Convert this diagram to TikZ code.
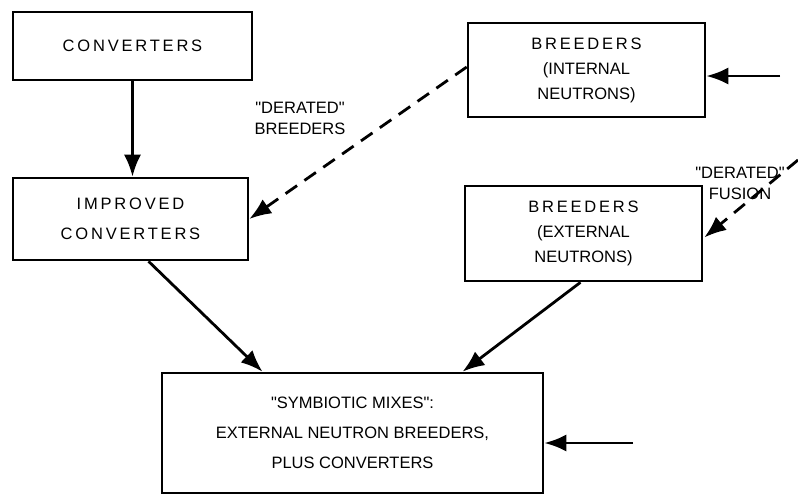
\documentclass[tikz,border=0pt]{standalone}
\usepackage{fontspec}
\setmainfont[Ligatures=TeXOff]{Liberation Sans}
\newfontfamily\spacedfont[LetterSpace=17,Ligatures=TeXOff]{Liberation Sans}
\newcommand{\qq}{"}
\usetikzlibrary{arrows.meta,calc}
\tikzset{
  box/.style={draw,line width=2.6pt,rectangle,inner sep=0pt,align=center,font=\fontsize{16.5}{25}\selectfont},
  conn/.style={line width=2.8pt,-{Latex[length=22pt,width=17pt]}},
  dconn/.style={conn,dash pattern=on 14pt off 9pt},
  lbl/.style={align=center,font=\fontsize{16.5}{21}\selectfont}
}
\begin{document}
\begin{tikzpicture}[x=1pt,y=-1pt]
\useasboundingbox (0,0) rectangle (798,498);
\node[box,minimum width=239pt,minimum height=68pt] (conv) at (132.5,46) {{\spacedfont CONVERTERS}};
\node[box,minimum width=235pt,minimum height=82pt,font=\fontsize{16.5}{30}\selectfont] (impr) at (130.5,219) {{\spacedfont IMPROVED}\\{\spacedfont CONVERTERS}};
\node[box,minimum width=237pt,minimum height=94pt] (bint) at (586.5,70) {{\spacedfont BREEDERS}\\(INTERNAL\\NEUTRONS)};
\node[box,minimum width=237pt,minimum height=95pt] (bext) at (583.5,233.5) {{\spacedfont BREEDERS}\\(EXTERNAL\\NEUTRONS)};
\node[box,minimum width=381pt,minimum height=120pt,font=\fontsize{16.5}{30}\selectfont] (sym) at (352.5,433) {\qq SYMBIOTIC MIXES\qq:\\EXTERNAL NEUTRON BREEDERS,\\PLUS CONVERTERS};
\node[lbl] (lb1) at (300,118) {\qq DERATED\qq\\BREEDERS};
\node[lbl] (lb2) at (740,183) {\qq DERATED\qq\\FUSION};
\coordinate (inA) at (780,76);
\coordinate (inF) at (798,160);
\coordinate (inS) at (633,443);
\draw[conn] (conv.south) -- (conv.south |- impr.north);
\draw[dconn] ($(bint.west)+(0,-3)$) -- (impr.east);
\draw[conn] (inA) -- (inA -| bint.east);
\draw[dconn] (inF) -- ($(bext.east)+(1,4)$);
\draw[conn] ($(impr.south)+(18,0)$) -- ($(sym.north)+(-90,0)$);
\draw[conn] ($(bext.south)+(-3,0)$) -- ($(sym.north)+(110,0)$);
\draw[conn] (inS) -- (inS -| sym.east);
\end{tikzpicture}
\end{document}
